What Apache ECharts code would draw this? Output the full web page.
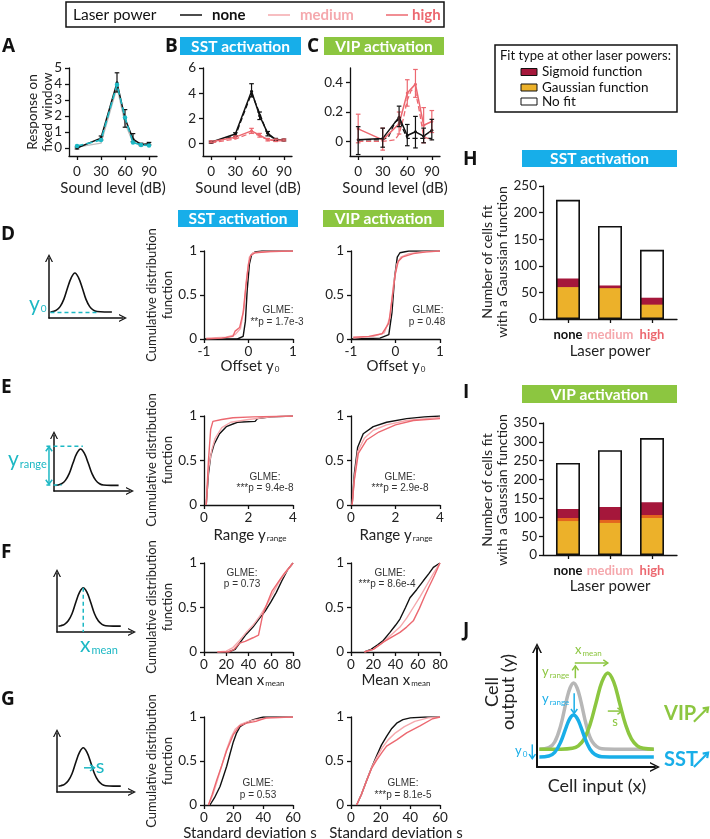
<!DOCTYPE html>
<html><head><meta charset="utf-8">
<script src="https://cdn.jsdelivr.net/npm/echarts@6/dist/echarts.min.js"></script>
<style>html,body{margin:0;padding:0;background:#fff}#c{width:710px;height:839px}</style>
</head><body><div id="c"></div><script>
// ---------------- DATA ----------------
const soundLevels = [0, 30, 50, 60, 70, 80, 90];
const soundTicks = [0, 30, 60, 90];
// Panel A
const aNone   = [0.0, 0.62, 4.08, 1.85, 0.56, 0.22, 0.27];
const aNoneLo = [-0.06, 0.5, 3.5, 1.3, 0.4, 0.15, 0.2];
const aNoneHi = [0.06, 0.75, 4.7, 2.4, 0.9, 0.3, 0.35];
const aFit    = [0.12, 0.5, 3.96, 1.9, 0.35, 0.19, 0.16];
const aGray   = [0.06, 0.3, 3.8, 1.55, 0.35, 0.2, 0.18];
// Panel B
const bNone    = [0.1, 0.75, 4.15, 2.2, 0.8, 0.3, 0.27];
const bNoneLo  = [0.02, 0.6, 3.7, 1.9, 0.6, 0.2, 0.2];
const bNoneHi  = [0.18, 0.85, 4.75, 2.5, 0.95, 0.4, 0.35];
const bNoneFit = [0.1, 0.6, 4.0, 2.4, 0.7, 0.3, 0.27];
const bHigh    = [0.13, 0.5, 1.0, 0.65, 0.3, 0.25, 0.27];
const bHighLo  = [0.05, 0.4, 0.8, 0.5, 0.2, 0.15, 0.2];
const bHighHi  = [0.2, 0.6, 1.2, 0.8, 0.4, 0.35, 0.35];
const bHighFit = [0.05, 0.35, 0.85, 0.6, 0.3, 0.2, 0.22];
// Panel C
const cNone   = [0.01, 0.02, 0.165, 0.04, 0.065, 0.035, 0.075];
const cNoneLo = [-0.09, -0.04, 0.1, -0.03, -0.045, -0.01, 0.01];
const cNoneHi = [0.1, 0.09, 0.24, 0.115, 0.17, 0.09, 0.15];
const cHigh   = [0.085, 0.01, 0.12, 0.33, 0.39, 0.11, 0.135];
const cHighLo = [-0.01, -0.06, 0.05, 0.24, 0.3, -0.01, 0.06];
const cHighHi = [0.185, 0.09, 0.2, 0.42, 0.49, 0.23, 0.21];
const cNoneFitX = [0, 30, 37, 45, 50, 55, 60, 70, 80, 90];
const cNoneFitY = [0.01, 0.01, 0.03, 0.13, 0.15, 0.08, 0.02, 0.02, 0.02, 0.02];
const cHighFitX = [0, 30, 45, 50, 55, 60, 65, 70, 75, 80, 90];
const cHighFitY = [0.0, 0.0, 0.01, 0.05, 0.15, 0.28, 0.35, 0.34, 0.2, 0.03, 0.01];
// CDF panels [x, cdf]
const dSstNone = [[-1,0],[-0.25,0],[-0.12,0.03],[-0.07,0.2],[-0.03,0.55],[0.02,0.85],[0.07,0.96],[0.15,0.99],[0.3,1],[1,1]];
const dSstMed  = [[-0.95,0.01],[-0.5,0.02],[-0.3,0.05],[-0.18,0.12],[-0.1,0.35],[-0.04,0.7],[0.02,0.93],[0.1,0.98],[0.4,0.995],[1,1]];
const dSstHigh = [[-0.95,0],[-0.6,0.01],[-0.35,0.03],[-0.3,0.09],[-0.2,0.13],[-0.12,0.3],[-0.06,0.6],[0,0.85],[0.05,0.95],[0.15,0.98],[0.5,0.995],[1,1]];
const dVipNone = [[-1,0],[-0.35,0.01],[-0.15,0.05],[-0.08,0.3],[-0.02,0.7],[0.04,0.93],[0.1,0.98],[0.3,1],[1,1]];
const dVipMed  = [[-0.95,0.01],[-0.5,0.03],[-0.25,0.07],[-0.12,0.25],[-0.05,0.6],[0.03,0.85],[0.12,0.93],[0.3,0.97],[0.6,0.99],[1,1]];
const dVipHigh = [[-0.95,0.02],[-0.6,0.03],[-0.3,0.06],[-0.15,0.18],[-0.08,0.45],[0,0.75],[0.06,0.88],[0.15,0.93],[0.4,0.97],[0.7,0.99],[1,1]];
const eSstNone = [[0.1,0],[0.2,0.35],[0.3,0.55],[0.45,0.68],[0.7,0.8],[1.0,0.88],[1.5,0.93],[2.3,0.94],[2.4,0.97],[3.0,0.99],[4,1]];
const eSstMed  = [[0.1,0],[0.2,0.4],[0.35,0.62],[0.5,0.75],[0.8,0.87],[1.2,0.93],[2,0.96],[3,0.99],[4,1]];
const eSstHigh = [[0.1,0],[0.2,0.5],[0.3,0.85],[0.4,0.94],[0.8,0.96],[1.3,0.98],[2.2,0.99],[4,1]];
const eVipNone = [[0.05,0],[0.15,0.35],[0.3,0.65],[0.55,0.8],[1.0,0.88],[1.6,0.93],[2.5,0.97],[3.3,0.99],[4,1]];
const eVipMed  = [[0.05,0],[0.15,0.3],[0.3,0.6],[0.6,0.75],[1.0,0.84],[1.6,0.9],[2.5,0.95],[4,0.985]];
const eVipHigh = [[0.05,0],[0.15,0.28],[0.33,0.58],[0.7,0.73],[1.25,0.82],[2.0,0.9],[2.8,0.95],[4,0.97]];
const fSstNone = [[22,0],[28,0.03],[32,0.1],[38,0.2],[44,0.28],[50,0.38],[55,0.46],[60,0.56],[65,0.67],[70,0.8],[75,0.92],[80,1]];
const fSstMed  = [[12,0],[20,0.01],[26,0.05],[32,0.13],[38,0.22],[44,0.3],[50,0.4],[56,0.52],[62,0.66],[68,0.8],[74,0.9],[80,1]];
const fSstHigh = [[12,0],[22,0],[27,0.03],[32,0.1],[37,0.12],[44,0.16],[49,0.19],[53,0.43],[61,0.68],[67,0.79],[72,0.88],[80,1]];
const fVipNone = [[12,0],[18,0.03],[24,0.08],[29,0.13],[35,0.22],[40,0.3],[44,0.37],[49,0.5],[53,0.61],[59,0.7],[65,0.8],[70,0.88],[74,0.95],[80,1]];
const fVipMed  = [[12,0],[20,0.03],[28,0.1],[35,0.18],[44,0.28],[50,0.38],[56,0.5],[62,0.62],[68,0.75],[74,0.88],[80,1]];
const fVipHigh = [[12,0],[20,0.03],[29,0.11],[37,0.17],[44,0.22],[50,0.28],[56,0.35],[61.5,0.49],[66,0.62],[70,0.73],[75,0.86],[80,1]];
const gSstNone = [[4,0],[7,0.08],[10.8,0.21],[13,0.32],[15.3,0.44],[17.5,0.58],[19.8,0.72],[22,0.82],[24.3,0.89],[28,0.93],[33.3,0.97],[40,1],[60,1]];
const gSstMed  = [[3,0],[6,0.12],[9,0.28],[12,0.45],[15,0.62],[18,0.76],[21,0.86],[25,0.92],[30,0.95],[35,0.97],[45,0.99],[60,1]];
const gSstHigh = [[3,0],[5.5,0.12],[8.5,0.28],[12,0.45],[15.3,0.62],[19.8,0.8],[24,0.9],[28.8,0.93],[35,0.95],[42,0.99],[60,1]];
const gVipNone = [[3.8,0],[7,0.12],[10.6,0.28],[14,0.43],[17.3,0.56],[20.5,0.68],[24,0.78],[27.5,0.87],[30.8,0.93],[35,0.97],[40,0.99],[50,1],[60,1]];
const gVipMed  = [[3.8,0],[7,0.12],[10.6,0.28],[14,0.43],[17.3,0.54],[21,0.65],[25,0.74],[30,0.82],[36,0.89],[43,0.95],[52,0.99],[60,1]];
const gVipHigh = [[3.8,0],[7,0.12],[10.6,0.28],[14,0.42],[17.3,0.51],[21,0.6],[24,0.67],[30.8,0.74],[37.5,0.82],[46.5,0.9],[55,0.98],[60,1]];
// Bars H / I
const barCats   = ['none', 'medium', 'high'];
const hGauss    = [60, 58, 27];
const hSigmoid  = [16, 5, 13];
const hTotal    = [224, 175, 130];
const iGauss    = [90, 85, 98];
const iMixed    = [8, 8, 8];
const iSigmoid  = [24, 34, 34];
const iTotal    = [244, 278, 310];
// Schematic curves (unit box)
const sketchX = [0.02,0.05,0.1,0.15,0.2,0.25,0.3,0.35,0.4,0.45,0.5,0.55,0.6,0.65,0.75,0.85];
const sketchY = [0.1,0.107,0.13,0.19,0.31,0.5,0.67,0.75,0.67,0.5,0.31,0.19,0.13,0.107,0.1,0.1];
const jGrayX  = [0.02,0.1,0.15,0.2,0.25,0.28,0.31,0.34,0.37,0.42,0.47,0.55,0.7,0.9,0.99];
const jGrayY  = [0.15,0.162,0.21,0.345,0.56,0.664,0.706,0.664,0.56,0.345,0.21,0.154,0.15,0.15,0.15];
const jBlueY  = [0.084,0.092,0.123,0.208,0.342,0.41,0.437,0.41,0.342,0.208,0.123,0.086,0.084,0.084,0.084];
const jGreenX = [0.02,0.2,0.3,0.35,0.4,0.45,0.5,0.55,0.6,0.65,0.7,0.75,0.8,0.85,0.9,0.99];
const jGreenY = [0.15,0.15,0.157,0.178,0.236,0.358,0.538,0.715,0.79,0.715,0.538,0.358,0.236,0.178,0.157,0.15];
// schematic annotation segments [x1, y1, x2, y2, dashed, arrowAtStart, arrowAtEnd]
const skDecoD = [[0.02, 0.09, 0.68, 0.09, 1, 0, 0]];
const skDecoE = [[-0.1, 0.8, 0.38, 0.8, 1, 0, 0], [-0.1, 0.107, 0.1, 0.107, 1, 0, 0], [-0.066, 0.12, -0.066, 0.79, 0, 1, 1]];
const skDecoF = [[0.35, 0.75, 0.35, 0, 1, 0, 0]];
const skDecoG = [[0.36, 0.41, 0.5, 0.41, 0, 0, 1]];
const jDecoGreen = [[0.32, 0.874, 0.6, 0.874, 0, 0, 1], [0.325, 0.746, 0.325, 0.85, 0, 0, 1], [0.6, 0.47, 0.72, 0.47, 0, 0, 1]];
const jDecoBlue  = [[0.315, 0.62, 0.315, 0.45, 0, 0, 1], [-0.04, 0.19, -0.04, 0.07, 0, 0, 1]];
const jUpGreen   = [[1.33, 0.38, 1.45, 0.5, 0, 0, 1]];
const jUpBlue    = [[1.33, 0.0, 1.45, 0.12, 0, 0, 1]];

// ---------------- STYLE ----------------
const F = 'Lato, "Open Sans", sans-serif';
const FA = '"Liberation Sans", Arial, sans-serif';
const C_NONE = '#111', C_MED = '#f5a8ad', C_HIGH = '#ec6870', C_CYAN = '#1db8c4';
const C_SST = '#17aee9', C_VIP = '#8cc640', C_OR = '#ecb12a', C_DOR = '#e4651e', C_CR = '#a5173b';
const C_JBLUE = '#19aee8', C_JGRAY = '#b7b7b7';
const CHEV = 'path://M0,10 L5,0 L10,10 L8.4,10 L5,3.2 L1.6,10 Z';

const grids = [], xAxes = [], yAxes = [], series = [], G = [];
const lineSt = { color: '#111', width: 1.3 };
const lab = { fontSize: 13.5, color: '#222', fontFamily: F };

function addGrid(g, xa, ya) {
  grids.push(g); const i = grids.length - 1;
  xAxes.push(Object.assign({ gridIndex: i, splitLine: { show: false } }, xa));
  yAxes.push(Object.assign({ gridIndex: i, splitLine: { show: false } }, ya));
  return i;
}
function customAx(min, max, ticks, margin, fmt) {
  return { type: 'value', min, max,
    axisLine: { show: true, onZero: false, lineStyle: lineSt },
    axisTick: { show: true, length: 4, customValues: ticks, lineStyle: lineSt },
    axisLabel: Object.assign({ customValues: ticks, margin, formatter: fmt }, lab) };
}
function intAx(min, max, interval, margin) {
  return { type: 'value', min, max, interval,
    axisLine: { show: true, onZero: false, lineStyle: lineSt },
    axisTick: { show: true, length: 4, lineStyle: lineSt },
    axisLabel: Object.assign({ margin }, lab) };
}
function pairs(xs, ys) { return xs.map((x, k) => [x, ys[k]]); }
function lineS(gi, name, data, color, o = {}) {
  return Object.assign({ type: 'line', name, xAxisIndex: gi, yAxisIndex: gi, data,
    symbol: 'none', lineStyle: { color, width: 1.3, type: o.dash ? 'dashed' : 'solid' },
    itemStyle: { color }, silent: true, z: o.z || 2 }, o.extra || {});
}
function errS(gi, lo, hi, color) {
  return { type: 'custom', xAxisIndex: gi, yAxisIndex: gi, silent: true, z: 3,
    data: soundLevels.map((x, k) => [x, lo[k], hi[k]]), encode: { x: 0, y: [1, 2] },
    renderItem: (p, api) => {
      const x = api.value(0), a = api.coord([x, api.value(1)]), b = api.coord([x, api.value(2)]);
      const w = 2.3, st = { stroke: color, lineWidth: 1.2 };
      return { type: 'group', children: [
        { type: 'line', shape: { x1: a[0], y1: a[1], x2: b[0], y2: b[1] }, style: st },
        { type: 'line', shape: { x1: a[0] - w, y1: a[1], x2: a[0] + w, y2: a[1] }, style: st },
        { type: 'line', shape: { x1: b[0] - w, y1: b[1], x2: b[0] + w, y2: b[1] }, style: st }] };
    } };
}
function decoS(gi, items, color, width) {
  return { type: 'custom', xAxisIndex: gi, yAxisIndex: gi, silent: true, clip: false, z: 4,
    data: items, encode: { x: [0, 2], y: [1, 3] },
    renderItem: (p, api) => {
      const a = api.coord([api.value(0), api.value(1)]), b = api.coord([api.value(2), api.value(3)]);
      const st = { stroke: color, lineWidth: width, fill: null };
      if (api.value(4)) st.lineDash = [4, 3];
      const ch = [{ type: 'line', shape: { x1: a[0], y1: a[1], x2: b[0], y2: b[1] }, style: st }];
      const head = (tip, from) => {
        const dx = tip[0] - from[0], dy = tip[1] - from[1], L = Math.hypot(dx, dy) || 1, ux = dx / L, uy = dy / L, h = 4.5, w = 3.2;
        return { type: 'polyline', shape: { points: [[tip[0] - ux * h - uy * w, tip[1] - uy * h + ux * w], [tip[0], tip[1]], [tip[0] - ux * h + uy * w, tip[1] - uy * h - ux * w]] },
          style: { stroke: color, lineWidth: width, fill: null } };
      };
      if (api.value(6)) ch.push(head(b, a));
      if (api.value(5)) ch.push(head(a, b));
      return { type: 'group', children: ch };
    } };
}
function txt(x, y, text, o = {}) {
  const style = { text, fontFamily: o.ff || F, fontSize: o.fs || 14, fontWeight: o.fw || 'normal',
    fill: o.c || '#222', align: o.al || 'center', verticalAlign: o.va || 'middle' };
  if (o.lh) style.lineHeight = o.lh;
  if (o.rich) style.rich = o.rich;
  return { type: 'text', x, y, rotation: o.rot || 0, silent: true, style, z: 50 };
}
function sub(fs, c, pad) { return { s: { fontSize: fs, fill: c, fontFamily: F, padding: [pad, 0, 0, 1] } }; }

// ---------------- PANELS A-C ----------------
const gA = addGrid({ left: 69, top: 68, width: 88, height: 88 },
  customAx(-10, 100, soundTicks, 9), customAx(-0.5, 5, [0,1,2,3,4,5], 7));
series.push(lineS(gA, 'fit', pairs(soundLevels, aGray), '#bdbdbd', { z: 1 }));
series.push(lineS(gA, 'none', pairs(soundLevels, aNone), C_NONE, { extra: { symbol: 'circle', symbolSize: 3, lineStyle: { color: C_NONE, width: 1.5 } } }));
series.push(errS(gA, aNoneLo, aNoneHi, C_NONE));
series.push(lineS(gA, 'fit', pairs(soundLevels, aFit), C_CYAN, { z: 4, extra: { symbol: 'circle', symbolSize: 4.5, lineStyle: { color: C_CYAN, width: 1.6, type: 'dashed' } } }));

const gB = addGrid({ left: 203, top: 68, width: 89, height: 88 },
  customAx(-10, 100, soundTicks, 9), customAx(-1, 6, [0,2,4,6], 7));
series.push(lineS(gB, 'none', pairs(soundLevels, bNoneFit), C_NONE, { dash: true }));
series.push(lineS(gB, 'none', pairs(soundLevels, bNone), C_NONE, { extra: { symbol: 'circle', symbolSize: 3, lineStyle: { color: C_NONE, width: 1.5 } } }));
series.push(errS(gB, bNoneLo, bNoneHi, C_NONE));
series.push(lineS(gB, 'high', pairs(soundLevels, bHighFit), C_HIGH, { dash: true }));
series.push(lineS(gB, 'high', pairs(soundLevels, bHigh), C_HIGH, { extra: { symbol: 'circle', symbolSize: 3, lineStyle: { color: C_HIGH, width: 1.5 } } }));
series.push(errS(gB, bHighLo, bHighHi, C_HIGH));

const gC = addGrid({ left: 350, top: 68, width: 90, height: 88 },
  customAx(-10, 100, soundTicks, 9), customAx(-0.1, 0.5, [0, 0.2, 0.4], 7, v => v === 0 ? '0' : v.toFixed(1)));
series.push(lineS(gC, 'none', pairs(cNoneFitX, cNoneFitY), C_NONE, { dash: true }));
series.push(lineS(gC, 'high', pairs(cHighFitX, cHighFitY), C_HIGH, { dash: true }));
series.push(lineS(gC, 'high', pairs(soundLevels, cHigh), C_HIGH, { extra: { symbol: 'circle', symbolSize: 3, lineStyle: { color: C_HIGH, width: 1.5 } } }));
series.push(errS(gC, cHighLo, cHighHi, C_HIGH));
series.push(lineS(gC, 'none', pairs(soundLevels, cNone), C_NONE, { extra: { symbol: 'circle', symbolSize: 3, lineStyle: { color: C_NONE, width: 1.5 } } }));
series.push(errS(gC, cNoneLo, cNoneHi, C_NONE));

// ---------------- CDF PANELS D-G ----------------
const rows = [
  { top: 251, h: 88, x: [-1, 1, 1], sets: [[dSstNone, dSstMed, dSstHigh], [dVipNone, dVipMed, dVipHigh]] },
  { top: 416, h: 89, x: [0, 4, 2], sets: [[eSstNone, eSstMed, eSstHigh], [eVipNone, eVipMed, eVipHigh]] },
  { top: 563, h: 89, x: [0, 80, 20], sets: [[fSstNone, fSstMed, fSstHigh], [fVipNone, fVipMed, fVipHigh]] },
  { top: 717, h: 88, x: [0, 60, 20], sets: [[gSstNone, gSstMed, gSstHigh], [gVipNone, gVipMed, gVipHigh]] }];
const colLeft = [204, 351];
rows.forEach(r => {
  [0, 1].forEach(ci => {
    const gi = addGrid({ left: colLeft[ci], top: r.top, width: 89, height: r.h },
      intAx(r.x[0], r.x[1], r.x[2], 6), intAx(0, 1, 0.5, 7));
    const s = r.sets[ci];
    series.push(lineS(gi, 'none', s[0], C_NONE, { extra: { lineStyle: { color: C_NONE, width: 1.4 } } }));
    series.push(lineS(gi, 'medium', s[1], C_MED, { extra: { lineStyle: { color: C_MED, width: 1.4 } } }));
    series.push(lineS(gi, 'high', s[2], C_HIGH, { extra: { lineStyle: { color: C_HIGH, width: 1.4 } } }));
  });
});

// ---------------- BARS H / I ----------------
// segments bottom->top; drawn as overlapping bars of cumulative height (tallest first)
function barGrid(top, h, max, segs, total) {
  const gi = addGrid({ left: 543, top, width: 134, height: h },
    { type: 'value', min: -0.595, max: 2.595,
      axisLine: { show: true, onZero: false, lineStyle: lineSt },
      axisTick: { show: true, length: 4, customValues: [0, 1, 2], lineStyle: lineSt },
      axisLabel: { customValues: [0, 1, 2], margin: 9, fontSize: 13, fontFamily: F,
        formatter: v => '{' + 'abc'[Math.round(v)] + '|' + barCats[Math.round(v)] + '}',
        rich: { a: { color: '#111', fontWeight: 'bold', fontSize: 13, fontFamily: F },
                b: { color: C_MED, fontWeight: 'bold', fontSize: 13, fontFamily: F },
                c: { color: C_HIGH, fontWeight: 'bold', fontSize: 13, fontFamily: F } } } },
    intAx(0, max, 50, 6));
  const cum = []; let run = [0, 0, 0];
  segs.forEach(([vals, color]) => { run = run.map((r, k) => r + vals[k]); cum.push([run.slice(), color]); });
  cum.reverse().forEach(([vals, color]) => series.push({ type: 'bar', xAxisIndex: gi, yAxisIndex: gi,
    barWidth: 24, barGap: '-100%', silent: true, itemStyle: { color },
    data: vals.map((v, k) => [k, v]) }));
  series.push({ type: 'bar', xAxisIndex: gi, yAxisIndex: gi, barWidth: 24, barGap: '-100%', silent: true, z: 5,
    itemStyle: { color: 'rgba(0,0,0,0)', borderColor: '#111', borderWidth: 1.6 },
    data: total.map((v, k) => [k, v]) });
}
barGrid(186, 133, 250, [[hGauss, C_OR], [hSigmoid, C_CR]], hTotal);
barGrid(423, 132, 350, [[iGauss, C_OR], [iMixed, C_DOR], [iSigmoid, C_CR]], iTotal);

// ---------------- SCHEMATICS ----------------
function sketchAx(w, size) {
  return { type: 'value', min: 0, max: 1,
    axisLine: { show: true, onZero: true, symbol: ['none', CHEV], symbolSize: size, lineStyle: { color: '#111', width: w } },
    axisTick: { show: false }, axisLabel: { show: false } };
}
const sk = [
  { left: 49, top: 258, width: 74, height: 60 },
  { left: 54, top: 435, width: 76, height: 56 },
  { left: 57, top: 573, width: 75, height: 59 },
  { left: 57, top: 733, width: 75, height: 59 }];
const skDeco = [skDecoD, skDecoE, skDecoF, skDecoG];
sk.forEach((g, k) => {
  const gi = addGrid(g, sketchAx(1.5, [8, 9]), sketchAx(1.5, [8, 9]));
  series.push(lineS(gi, 'sketch', pairs(sketchX, sketchY), '#111', { extra: { smooth: 0.4, clip: false, lineStyle: { color: '#111', width: 1.6 } } }));
  series.push(decoS(gi, skDeco[k], C_CYAN, 1.5));
});
// J
const gJ = addGrid({ left: 537, top: 648, width: 118, height: 119 }, sketchAx(2, [10, 11]), sketchAx(2, [10, 11]));
series.push(lineS(gJ, 'gray', pairs(jGrayX, jGrayY), C_JGRAY, { extra: { smooth: 0.4, clip: false, lineStyle: { color: C_JGRAY, width: 3.5 } } }));
series.push(lineS(gJ, 'vip', pairs(jGreenX, jGreenY), C_VIP, { extra: { smooth: 0.4, clip: false, lineStyle: { color: C_VIP, width: 3.5 } } }));
series.push(lineS(gJ, 'sst', pairs(jGrayX, jBlueY), C_JBLUE, { extra: { smooth: 0.4, clip: false, lineStyle: { color: C_JBLUE, width: 3.5 } } }));
series.push(decoS(gJ, jDecoGreen, C_VIP, 1.5));
series.push(decoS(gJ, jDecoBlue, C_JBLUE, 1.5));
series.push(decoS(gJ, jUpGreen, C_VIP, 2.2));
series.push(decoS(gJ, jUpBlue, C_JBLUE, 2.2));

// ---------------- TEXT / DECORATION ----------------
// top legend
G.push({ type: 'rect', shape: { x: 66, y: 2, width: 378, height: 25 }, style: { fill: '#fff', stroke: '#111', lineWidth: 1.5 }, silent: true });
G.push(txt(73, 15, 'Laser power', { fs: 15.5, al: 'left', c: '#111' }));
[[180, 'none', C_NONE, 212], [268, 'medium', C_MED, 300], [386, 'high', C_HIGH, 412]].forEach(([x, t, c, tx]) => {
  G.push({ type: 'line', shape: { x1: x, y1: 15, x2: x + 22, y2: 15 }, style: { stroke: c, lineWidth: 1.5 }, silent: true });
  G.push(txt(tx, 15, t, { fs: 15, fw: 'bold', al: 'left', c }));
});
// panel letters
[['A', 2, 47], ['B', 165, 47], ['C', 307, 47], ['D', 1, 235], ['E', 1, 388], ['F', 1, 553], ['G', 1, 700], ['H', 463, 160], ['I', 463, 393], ['J', 463, 631]]
  .forEach(([t, x, y]) => G.push(txt(x, y, t, { fs: 19, fw: 'bold', al: 'left', c: '#111', ff: '"Open Sans", Lato, sans-serif' })));
// header boxes
[[180, 37, 121, 18, 'SST activation', C_SST], [324, 37, 120, 18, 'VIP activation', C_VIP],
 [178, 210, 120, 17, 'SST activation', C_SST], [323, 210, 121, 17, 'VIP activation', C_VIP],
 [522, 150, 155, 17, 'SST activation', C_SST], [522, 385, 155, 18, 'VIP activation', C_VIP]]
  .forEach(([x, y, w, h, t, c]) => {
    G.push({ type: 'rect', shape: { x, y, width: w, height: h }, style: { fill: c }, silent: true });
    G.push(txt(x + w / 2, y + h / 2 + 0.5, t, { fs: 15.5, fw: 'bold', c: '#fff' }));
  });
// A-C axis titles
G.push(txt(40, 112, 'Response on\nfixed window', { fs: 13.5, lh: 15, rot: Math.PI / 2, c: '#222' }));
[113, 248, 395].forEach(x => G.push(txt(x, 188, 'Sound level (dB)', { fs: 15, c: '#222' })));
// CDF titles
[295, 460, 607, 761].forEach(y => G.push(txt(160, y, 'Cumulative distribution\nfunction', { fs: 13, lh: 16, rot: Math.PI / 2, c: '#222' })));
[250, 396].forEach(x => {
  G.push(txt(x, 366, 'Offset y{s|0}', { fs: 15, c: '#222', rich: sub(8, '#222', 7) }));
  G.push(txt(x, 535, 'Range y{s|range}', { fs: 15, c: '#222', rich: sub(8, '#222', 7) }));
  G.push(txt(x, 680, 'Mean x{s|mean}', { fs: 15, c: '#222', rich: sub(8, '#222', 7) }));
  G.push(txt(x, 833, 'Standard deviation s', { fs: 15, c: '#222' }));
});
// GLME
[[278, 310, 'GLME:'], [277, 322, '**p = 1.7e-3'], [428, 310, 'GLME:'], [427, 322, 'p = 0.48'],
 [265, 477, 'GLME:'], [265, 488, '***p = 9.4e-8'], [400, 477, 'GLME:'], [400, 488, '***p = 2.9e-8'],
 [242, 573, 'GLME:'], [242, 584, 'p = 0.73'], [390, 573, 'GLME:'], [387, 584, '***p = 8.6e-4'],
 [258, 783, 'GLME:'], [258, 795, 'p = 0.53'], [403, 783, 'GLME:'], [403, 795, '***p = 8.1e-5']]
  .forEach(([x, y, t]) => G.push(txt(x, y, t, { fs: 10, ff: FA, c: '#333' })));
// H / I titles
[262, 490].forEach(y => G.push(txt(495, y, 'Number of cells fit\nwith a Gaussian function', { fs: 14, lh: 15.5, rot: Math.PI / 2, c: '#222' })));
[351, 586].forEach(y => G.push(txt(610, y, 'Laser power', { fs: 15, c: '#222' })));
// right legend
G.push({ type: 'rect', shape: { x: 495, y: 45, width: 182, height: 67 }, style: { fill: '#fff', stroke: '#111', lineWidth: 1.5 }, silent: true });
G.push(txt(500, 56, 'Fit type at other laser powers:', { fs: 13, al: 'left', c: '#111' }));
[[72, C_CR, 'Sigmoid function'], [87.5, C_OR, 'Gaussian function'], [101.5, '#fff', 'No fit']].forEach(([y, c, t]) => {
  G.push({ type: 'rect', shape: { x: 521, y: y - 3.5, width: 16, height: 7 }, style: { fill: c, stroke: '#111', lineWidth: 1 }, silent: true });
  G.push(txt(542, y, t, { fs: 13.5, al: 'left', c: '#111' }));
});
// schematic labels
G.push(txt(29, 304, 'y{s|0}', { fs: 21, al: 'left', c: C_CYAN, rich: sub(10, C_CYAN, 10) }));
G.push(txt(8, 459, 'y{s|range}', { fs: 21, al: 'left', c: C_CYAN, rich: sub(11, C_CYAN, 10) }));
G.push(txt(80, 645, 'x{s|mean}', { fs: 21, al: 'left', c: C_CYAN, rich: sub(11, C_CYAN, 10) }));
G.push(txt(100, 767, 's', { fs: 20, c: C_CYAN }));
// J labels
G.push(txt(575, 650, 'x{s|mean}', { fs: 13, al: 'left', c: C_VIP, rich: sub(8, C_VIP, 7) }));
G.push(txt(542, 672, 'y{s|range}', { fs: 13, al: 'left', c: C_VIP, rich: sub(8, C_VIP, 7) }));
G.push(txt(542, 699, 'y{s|range}', { fs: 13, al: 'left', c: C_JBLUE, rich: sub(8, C_JBLUE, 7) }));
G.push(txt(615, 722, 's', { fs: 13, c: C_VIP }));
G.push(txt(515, 751, 'y{s|0}', { fs: 13, al: 'left', c: C_JBLUE, rich: sub(8, C_JBLUE, 7) }));
G.push(txt(664, 714, 'VIP', { fs: 20, fw: 'bold', al: 'left', c: C_VIP }));
G.push(txt(664, 760, 'SST', { fs: 20, fw: 'bold', al: 'left', c: C_JBLUE }));
G.push(txt(500, 692, 'Cell\noutput (y)', { fs: 18, lh: 16, rot: Math.PI / 2, c: '#222' }));
G.push(txt(597, 786, 'Cell input (x)', { fs: 18, c: '#222' }));

const chart = echarts.init(document.getElementById('c'), null, { renderer: 'canvas' });
chart.setOption({ animation: false, grid: grids, xAxis: xAxes, yAxis: yAxes, series, graphic: G });
</script></body></html>
